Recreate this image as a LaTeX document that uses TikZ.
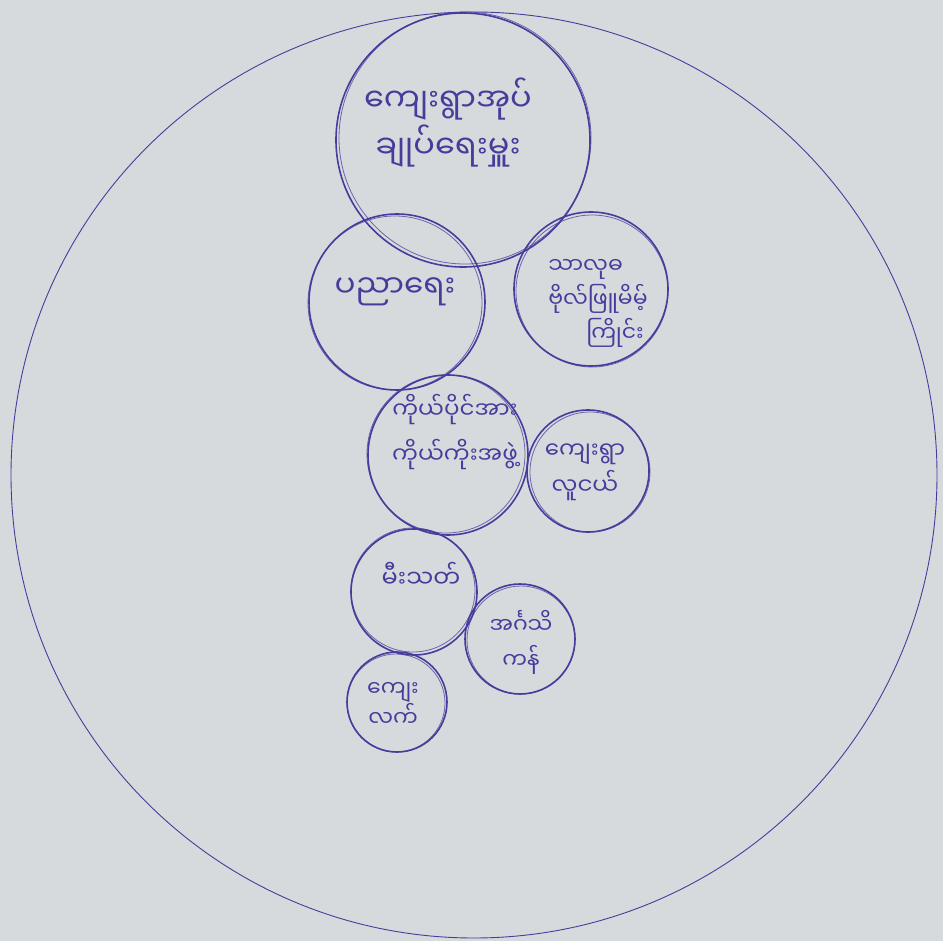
\documentclass[tikz,border=0pt]{standalone}
\usepackage{fontspec}
\newfontfamily\mya[Script=Myanmar]{Noto Sans Myanmar UI}
\definecolor{paper}{RGB}{215,218,221}
\definecolor{ink}{RGB}{70,60,156}
\begin{document}
\begin{tikzpicture}[x=1pt,y=-1pt,
  bub/.style={circle,draw=ink,line width=1.6pt,inner sep=0pt},
  sketch/.style={draw=ink,line width=0.8pt,opacity=0.75},
  lbl/.style={text=ink,align=center,inner sep=0pt}]
\fill[paper] (0,0) rectangle (943,941);
\useasboundingbox (0,0) rectangle (943,941);
% outer frame
\node[circle,draw=ink,line width=0.9pt,minimum size=926pt,inner sep=0pt] (frame) at (474,475) {};
% bubbles
\node[bub,minimum size=254pt] (c1) at (463,140) {};
\node[bub,minimum size=176pt] (c2) at (397,302) {};
\node[bub,minimum size=154pt] (c3) at (591,289) {};
\node[bub,minimum size=160pt] (c4) at (448,455) {};
\node[bub,minimum size=122pt] (c5) at (588,471) {};
\node[bub,minimum size=126pt] (c6) at (414,592) {};
\node[bub,minimum size=110pt] (c7) at (520,639) {};
\node[bub,minimum size=100pt] (c8) at (397,702) {};
% sketchy second strokes
\draw[sketch] ([shift={(2,-2)}]c1.center) circle (126);
\draw[sketch] ([shift={(-2,1)}]c2.center) circle (87);
\draw[sketch] ([shift={(1,2)}]c3.center) circle (76);
\draw[sketch] ([shift={(-2,-1)}]c4.center) circle (79);
\draw[sketch] ([shift={(2,1)}]c5.center) circle (60);
\draw[sketch] ([shift={(-1,-2)}]c6.center) circle (62);
\draw[sketch] ([shift={(1,1)}]c7.center) circle (54);
\draw[sketch] ([shift={(-1,1)}]c8.center) circle (49);
% labels
\node[lbl,font=\mya\fontsize{32}{47}\selectfont] (t1) at (448,123) {ကျေးရွာအုပ်\\ချုပ်ရေးမှူး};
\node[lbl,font=\mya\fontsize{31}{40}\selectfont] (t2) at (395,292) {ပညာရေး};
\node[lbl,align=left,font=\mya\fontsize{22}{34}\selectfont] (t3) at (598,303) {သာလုဓ\\ဗိုလ်ဖြူမိမ့်\\\hspace*{38pt}ကြိုင်း};
\node[lbl,font=\mya\fontsize{23}{45}\selectfont] (t4) at (455,432) {ကိုယ်ပိုင်အား\\ကိုယ်ကိုးအဖွဲ့};
\node[lbl,font=\mya\fontsize{23}{36}\selectfont] (t5) at (585,472) {ကျေးရွာ\\လူငယ်};
\node[lbl,font=\mya\fontsize{24}{35}\selectfont] (t6) at (421,575) {မီးသတ်};
\node[lbl,font=\mya\fontsize{22}{35}\selectfont] (t7) at (521,642) {အင်္ဂသိ\\ကန်};
\node[lbl,font=\mya\fontsize{22}{29}\selectfont] (t8) at (393,704) {ကျေး\\လက်};
\end{tikzpicture}
\end{document}
